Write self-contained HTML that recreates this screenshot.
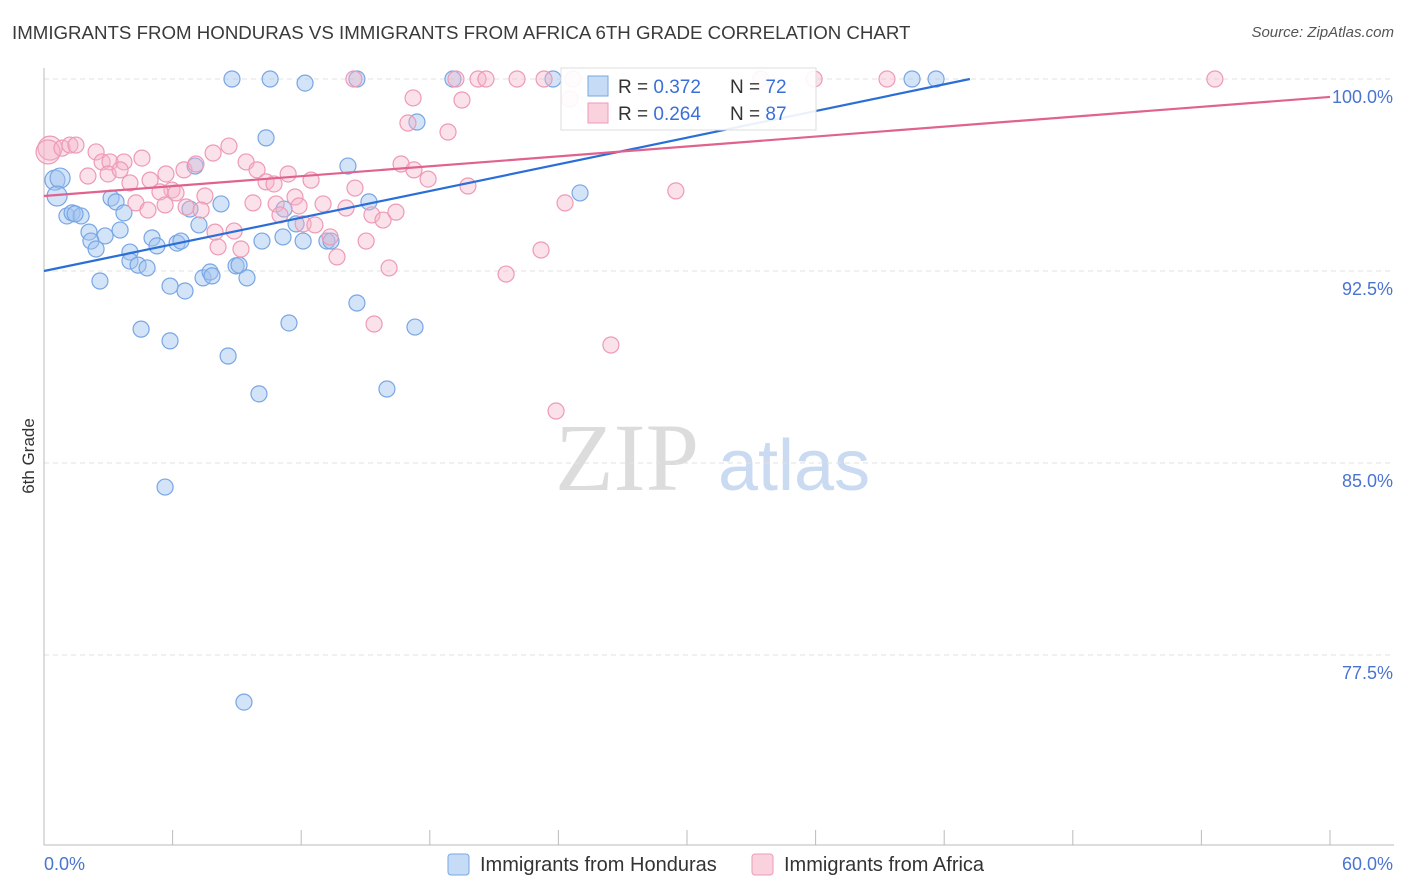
<!DOCTYPE html>
<html><head><meta charset="utf-8">
<style>
body{margin:0;background:#fff;font-family:"Liberation Sans",sans-serif;}
#wrap{position:relative;width:1406px;height:892px;overflow:hidden;}
.t{position:absolute;white-space:nowrap;}
</style></head>
<body>
<div id="wrap">
<div class="t" style="left:12px;top:22px;font-size:18.7px;color:#3a3a3a;">IMMIGRANTS FROM HONDURAS VS IMMIGRANTS FROM AFRICA 6TH GRADE CORRELATION CHART</div>
<div class="t" style="right:12px;top:24px;font-size:15px;color:#555;font-style:italic;">Source: ZipAtlas.com</div>
<svg id="svg" width="1406" height="892" style="position:absolute;left:0;top:0"></svg>
</div>
<script>
const xTicks=[0,6,12,18,24,30,36,42,48,54,60];
const yTicks=[100,92.5,85,77.5];
const yTickLabels=["100.0%","92.5%","85.0%","77.5%"];
const blueX=[8.77,10.55,12.18,14.6,19.08,23.75,40.5,41.62,10.36,17.4,14.18,7.05,0.51,0.75,0.61,3.13,3.36,3.73,1.07,1.31,1.73,1.45,8.26,6.81,11.2,11.76,15.16,25.01,7.23,2.1,2.85,3.55,2.19,2.43,4.01,5.04,5.27,6.21,6.39,10.17,11.15,12.09,13.2,13.39,4.01,4.39,4.81,2.61,5.88,6.58,7.42,7.75,7.84,8.96,9.1,9.47,4.53,5.88,11.43,17.31,14.6,8.59,10.03,16.0,5.65,9.33];
const blueY=[100,100,99.84,100,100,100,100,100,97.7,98.32,96.6,96.6,96.05,96.13,95.43,95.35,95.2,94.77,94.65,94.77,94.65,94.73,95.12,94.92,94.92,94.34,95.2,95.55,94.3,94.02,93.87,94.1,93.67,93.36,93.24,93.79,93.48,93.59,93.67,93.67,93.83,93.67,93.67,93.67,92.89,92.73,92.62,92.11,91.91,91.72,92.23,92.46,92.31,92.7,92.73,92.23,90.23,89.77,90.47,90.31,91.25,89.18,87.7,87.89,84.06,75.66];
const pinkX=[0.28,0.19,0.84,1.21,1.49,2.43,2.71,3.08,3.73,4.57,2.05,2.99,3.55,4.01,4.95,5.69,6.53,7.09,7.89,8.63,9.43,9.94,11.39,12.46,10.36,10.73,5.97,5.41,6.16,7.51,4.29,4.85,5.65,6.63,7.33,9.75,10.83,11.71,13.02,14.51,14.09,15.3,15.82,16.42,11.01,12.09,8.12,9.19,13.35,13.67,15.03,16.1,15.4,16.66,17.26,17.92,19.78,16.98,17.22,18.85,19.5,14.46,19.22,20.25,20.62,22.07,23.33,24.54,24.68,33.45,35.93,39.33,54.63,24.31,23.19,21.56,29.48,26.45,23.89,8.87,7.98,11.9,12.64];
const pinkY=[97.3,97.15,97.3,97.42,97.42,97.15,96.76,96.76,96.76,96.91,96.21,96.29,96.45,95.94,96.05,96.29,96.45,96.68,97.11,97.38,96.76,96.45,96.29,96.05,95.98,95.9,95.66,95.59,95.55,95.43,95.16,94.88,95.08,95.0,94.88,95.16,95.12,95.39,95.12,95.74,94.96,94.69,94.49,94.8,94.69,94.34,93.44,93.36,93.83,93.05,93.67,92.62,90.43,96.68,96.45,96.09,95.82,98.28,99.26,97.93,99.18,100,100,100,100,100,100,99.22,100,100,100,100,100,95.16,93.32,92.38,95.63,89.61,87.03,94.06,94.02,95.04,94.3];
const blueLineX=[0,43.2], blueLineY=[92.5,100];
const pinkLineX=[0,60], pinkLineY=[95.43,99.3];

const X=v=>44+v/60*1286;
const Y=v=>79+(100-v)/7.5*192;
const NS="http://www.w3.org/2000/svg";
const svg=document.getElementById('svg');
function mk(tag,attrs,parent){const e=document.createElementNS(NS,tag);for(const k in attrs)e.setAttribute(k,attrs[k]);(parent||svg).appendChild(e);return e;}

let wm=mk('text',{x:555,y:490,'font-size':96,'font-family':'Liberation Serif, serif',fill:'#dcdcdc'});wm.textContent='ZIP';


let wm2=mk('text',{x:718,y:490,'font-size':72,'font-family':'Liberation Sans, sans-serif',fill:'#c9daf1'});wm2.textContent='atlas';



yTicks.forEach((t,i)=>{
  const g=mk('line',{x1:44,x2:1394,y1:Y(t),y2:Y(t),stroke:'#e2e2e2','stroke-dasharray':'5,4'});
  
  
  const tx=mk('text',{x:1393,y:Y(t)+24,'text-anchor':'end','font-size':18,fill:'#4a74d0'});
  tx.textContent=yTickLabels[i];
  
  
});
const ya=mk('line',{x1:44,x2:44,y1:68,y2:845,stroke:'#bbb'});


const xa=mk('line',{x1:44,x2:1394,y1:845,y2:845,stroke:'#bbb'});


xTicks.forEach(t=>{
  const l=mk('line',{x1:X(t),x2:X(t),y1:830,y2:845,stroke:'#bbb'});
  
  
});
const xl0=mk('text',{x:44,y:870,'font-size':18,fill:'#4a74d0'});xl0.textContent='0.0%';


const xl1=mk('text',{x:1393,y:870,'font-size':18,fill:'#4a74d0','text-anchor':'end'});xl1.textContent='60.0%';


const yt=mk('text',{x:34,y:456,'font-size':17,fill:'#333','text-anchor':'middle',transform:'rotate(-90 34 456)'});yt.textContent='6th Grade';



blueX.forEach((v,i)=>{
  const c=mk('circle',{cx:X(v),cy:Y(blueY[i]),r:i<=14&&i>=12?10:8,fill:'rgba(160,196,240,0.45)',stroke:'#78a6e4','stroke-width':1.2});
  
  
});
pinkX.forEach((v,i)=>{
  const c=mk('circle',{cx:X(v),cy:Y(pinkY[i]),r:i<2?12:8,fill:'rgba(245,180,200,0.4)',stroke:'#ee9ab5','stroke-width':1.2});
  
  
});
const bl=mk('line',{x1:X(blueLineX[0]),y1:Y(blueLineY[0]),x2:X(blueLineX[1]),y2:Y(blueLineY[1]),stroke:'#2b6fd6','stroke-width':2.2});


const pl=mk('line',{x1:X(pinkLineX[0]),y1:Y(pinkLineY[0]),x2:X(pinkLineX[1]),y2:Y(pinkLineY[1]),stroke:'#e0628f','stroke-width':2.2});



const lb=mk('rect',{x:561,y:68,width:255,height:62,fill:'rgba(255,255,255,0.9)',stroke:'#ddd'});


[[86,'rgba(160,196,240,0.6)','#78a6e4','0.372','72'],[113,'rgba(245,180,200,0.6)','#ee9ab5','0.264','87']].forEach((r,i)=>{
  const sw=mk('rect',{x:588,y:r[0]-10,width:20,height:20,fill:r[1],stroke:r[2]});
  
  
  const t=mk('text',{x:618,y:r[0]+7,'font-size':19,fill:'#333'});
  t.innerHTML='R = <tspan fill="#3a6fd8">'+r[3]+'</tspan><tspan x="730">N = </tspan><tspan fill="#3a6fd8">'+r[4]+'</tspan>';
  
  
});
[[448,'rgba(160,196,240,0.6)','#78a6e4','Immigrants from Honduras'],[752,'rgba(245,180,200,0.6)','#ee9ab5','Immigrants from Africa']].forEach(r=>{
  const sw=mk('rect',{x:r[0],y:854,width:21,height:21,rx:3,fill:r[1],stroke:r[2]});
  
  
  const t=mk('text',{x:r[0]+32,y:871,'font-size':20,fill:'#333'});t.textContent=r[3];
  
  
});
</script>
</body></html>
